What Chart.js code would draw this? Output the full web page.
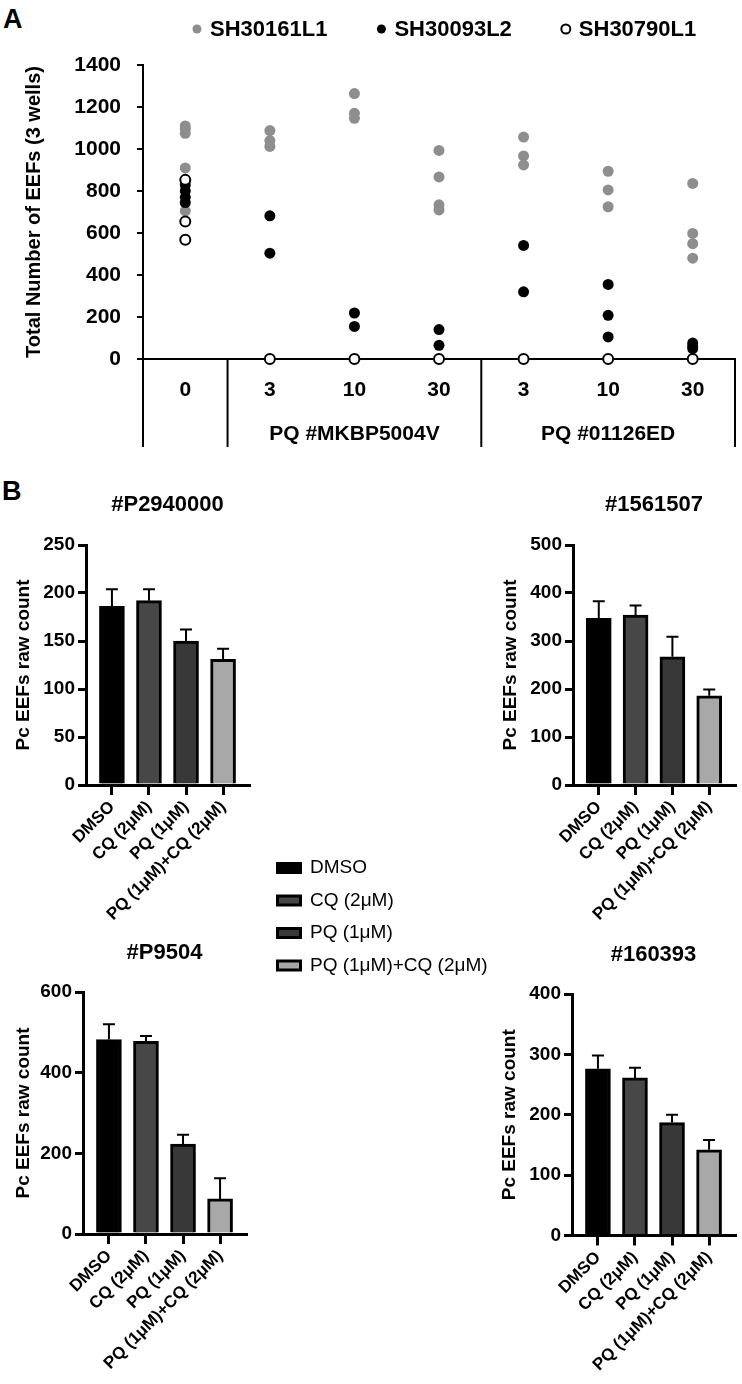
<!DOCTYPE html>
<html>
<head>
<meta charset="utf-8">
<script src="https://cdn.jsdelivr.net/npm/chart.js@4.4.0/dist/chart.umd.min.js"></script>
<style>
  body { margin: 0; background: #fff; }
  #page { position: relative; width: 742px; height: 1384px; overflow: hidden; font-family: 'Liberation Sans', Arial, sans-serif; }
  canvas { position: absolute; }
  .panel { position: absolute; font-weight: bold; font-size: 27px; line-height: 1; }
</style>
</head>
<body>
<div id="page">
  <div class="panel" style="left:3px;top:6px">A</div>
  <div class="panel" style="left:2px;top:478px">B</div>
  <canvas id="chartA" width="742" height="460" style="left:0;top:0"></canvas>
  <canvas id="chartB1" width="262" height="442" style="left:0;top:480px"></canvas>
  <canvas id="chartB2" width="255" height="442" style="left:487px;top:480px"></canvas>
  <canvas id="legendB" width="440" height="165" style="left:264px;top:845px"></canvas>
  <canvas id="chartB3" width="262" height="456" style="left:0;top:928px"></canvas>
  <canvas id="chartB4" width="256" height="454" style="left:486px;top:930px"></canvas>
</div>
<script>
Chart.defaults.font.family = "'Liberation Sans', Arial, sans-serif";
Chart.defaults.color = '#000';
Chart.defaults.animation = false;

// ---- panel A : x = position on the dose axis, y = total EEFs
const doseLabels = ['0', '3', '10', '30', '3', '10', '30'];
const lotNames = ['', 'PQ #MKBP5004V', 'PQ #01126ED'];
const lotFirst = [0, 1, 4];
const lotLast = [0, 3, 6];

const sh30161L1X = [0, 0, 0, 0, 0, 1, 1, 1, 2, 2, 2, 3, 3, 3, 3, 4, 4, 4, 5, 5, 5, 6, 6, 6, 6];
const sh30161L1Y = [1110, 1095, 1075, 910, 705, 1088, 1040, 1012, 1264, 1170, 1146, 993, 867, 734, 710, 1057, 967, 924, 894, 805, 725, 836, 598, 549, 480];
const sh30093L2X = [0, 0, 0, 0, 1, 1, 2, 2, 3, 3, 4, 4, 5, 5, 5, 6, 6, 6];
const sh30093L2Y = [830, 800, 770, 745, 682, 504, 219, 155, 140, 65, 541, 320, 355, 208, 105, 76, 62, 50];
const sh30790L1X = [0, 0, 0, 1, 2, 3, 4, 5, 6];
const sh30790L1Y = [853, 655, 568, 0, 0, 0, 0, 0, 0];

// ---- panel B : bar means and upper SD
const treatments = ['DMSO', 'CQ (2μM)', 'PQ (1μM)', 'PQ (1μM)+CQ (2μM)'];
const barColors = ['#000000', '#474747', '#383838', '#a8a8a8'];
const p2940000 = [186, 192, 150, 131];
const p2940000Err = [18, 12, 12, 11];
const c1561507 = [347, 354, 267, 186];
const c1561507Err = [36, 20, 42, 13];
const p9504 = [482, 478, 223, 87];
const p9504Err = [38, 13, 23, 51];
const c160393 = [276, 261, 187, 142];
const c160393Err = [22, 17, 13, 16];

function toPoints(xs, ys) {
  return xs.map((x, i) => ({ x: x, y: ys[i] }));
}

// legend + lot brackets under the x axis of panel A
const panelAExtras = {
  id: 'panelAExtras',
  afterDraw(chart) {
    const { ctx, scales: { x, y } } = chart;
    const base = y.getPixelForValue(0);
    ctx.save();
    ctx.strokeStyle = '#000';
    ctx.lineWidth = 2;
    const cuts = [-0.5, 0.5, 3.5, 6.5];
    cuts.forEach(v => {
      const px = Math.min(x.getPixelForValue(v), chart.width - 2);
      ctx.beginPath();
      ctx.moveTo(px, base);
      ctx.lineTo(px, base + 88);
      ctx.stroke();
    });
    ctx.fillStyle = '#000';
    ctx.font = "bold 21px 'Liberation Sans', Arial, sans-serif";
    ctx.textAlign = 'center';
    ctx.textBaseline = 'middle';
    lotNames.forEach((name, i) => {
      if (!name) return;
      const mid = (lotFirst[i] + lotLast[i]) / 2;
      ctx.fillText(name, x.getPixelForValue(mid), base + 75);
    });

    // legend
    ctx.font = "bold 22px 'Liberation Sans', Arial, sans-serif";
    ctx.textAlign = 'left';
    let lx = 193;
    chart.data.datasets.forEach(ds => {
      ctx.beginPath();
      ctx.arc(lx + 4, 29, 4.5, 0, Math.PI * 2);
      ctx.fillStyle = ds.pointBackgroundColor;
      ctx.fill();
      if (ds.pointBorderWidth) {
        ctx.lineWidth = 2;
        ctx.strokeStyle = ds.pointBorderColor;
        ctx.stroke();
      }
      ctx.fillStyle = '#000';
      ctx.fillText(ds.label, lx + 17, 30);
      lx += 17 + ctx.measureText(ds.label).width + 50;
    });
    ctx.restore();
  }
};

new Chart(document.getElementById('chartA'), {
  type: 'scatter',
  data: {
    datasets: [
      { label: 'SH30161L1', data: toPoints(sh30161L1X, sh30161L1Y), pointBackgroundColor: '#8e8e8e', pointBorderColor: '#8e8e8e', pointBorderWidth: 0, pointRadius: 5.5, order: 2, clip: false },
      { label: 'SH30093L2', data: toPoints(sh30093L2X, sh30093L2Y), pointBackgroundColor: '#000000', pointBorderColor: '#000000', pointBorderWidth: 0, pointRadius: 5.5, order: 1, clip: false },
      { label: 'SH30790L1', data: toPoints(sh30790L1X, sh30790L1Y), pointBackgroundColor: '#ffffff', pointBorderColor: '#000000', pointBorderWidth: 2, pointRadius: 5, order: 0, clip: false }
    ]
  },
  options: {
    responsive: false,
    events: [],
    layout: { padding: { top: 65, right: 2, left: 0, bottom: 0 } },
    plugins: { legend: { display: false }, tooltip: { enabled: false } },
    scales: {
      x: {
        type: 'linear',
        min: -0.5,
        max: 6.5,
        afterBuildTicks: s => { s.ticks = doseLabels.map((l, i) => ({ value: i })); },
        afterFit: s => { s.height = 101; },
        grid: { display: false, drawTicks: false },
        border: { color: '#000', width: 2 },
        ticks: { callback: v => doseLabels[v], autoSkip: false, maxRotation: 0, padding: 19, font: { size: 21, weight: 'bold' } }
      },
      y: {
        min: 0,
        max: 1400,
        afterFit: s => { s.width = 143; },
        grid: { drawOnChartArea: false, drawTicks: true, tickLength: 6, color: '#000', lineWidth: 2 },
        border: { color: '#000', width: 2 },
        ticks: { stepSize: 200, padding: 16, callback: v => String(v), font: { size: 21, weight: 'bold' } },
        title: { display: true, text: 'Total Number of EEFs (3 wells)', font: { size: 20, weight: 'bold' }, padding: { top: 22, bottom: 0 } }
      }
    }
  },
  plugins: [panelAExtras]
});

function makeBarChart(id, title, means, errs, yMax, yStep, axisWidth, bottomHeight, padRight, titleGap) {
  const errorBars = {
    id: 'errorBars',
    afterDatasetsDraw(chart) {
      const { ctx, scales: { x, y } } = chart;
      ctx.save();
      ctx.strokeStyle = '#000';
      ctx.lineWidth = 2;
      means.forEach((m, i) => {
        const px = x.getPixelForValue(i);
        const y0 = y.getPixelForValue(m);
        const y1 = y.getPixelForValue(m + errs[i]);
        ctx.beginPath();
        ctx.moveTo(px, y0);
        ctx.lineTo(px, y1);
        ctx.moveTo(px - 6, y1);
        ctx.lineTo(px + 6, y1);
        ctx.stroke();
      });
      ctx.restore();
    }
  };
  new Chart(document.getElementById(id), {
    type: 'bar',
    data: {
      datasets: [{
        data: means.map((m, i) => ({ x: i, y: m })),
        backgroundColor: barColors,
        borderColor: '#000',
        borderWidth: 3,
        borderSkipped: 'start',
        barThickness: 25
      }]
    },
    options: {
      responsive: false,
      events: [],
      layout: { padding: { top: 12, right: padRight, left: 0, bottom: 0 } },
      plugins: {
        legend: { display: false },
        tooltip: { enabled: false },
        title: { display: true, text: title, fullSize: false, font: { size: 22, weight: 'bold' }, padding: { top: 0, bottom: titleGap } }
      },
      scales: {
        x: {
          type: 'linear',
          min: -0.7,
          max: 3.7,
          offset: false,
          afterBuildTicks: s => { s.ticks = treatments.map((t, i) => ({ value: i })); },
          afterFit: s => { s.height = bottomHeight; },
          grid: { display: true, drawOnChartArea: false, drawTicks: true, tickLength: 10, color: '#000', lineWidth: 3, offset: false },
          border: { color: '#000', width: 3 },
          ticks: { callback: v => treatments[v], autoSkip: false, minRotation: 45, maxRotation: 45, padding: 2, font: { size: 17, weight: 'bold' } }
        },
        y: {
          min: 0,
          max: yMax,
          afterFit: s => { s.width = axisWidth; },
          grid: { drawOnChartArea: false, drawTicks: true, tickLength: 8, color: '#000', lineWidth: 3 },
          border: { color: '#000', width: 3 },
          ticks: { stepSize: yStep, padding: 3, callback: v => String(v), font: { size: 19, weight: 'bold' } },
          title: { display: true, text: 'Pc EEFs raw count', font: { size: 19, weight: 'bold' }, padding: { top: 12, bottom: 0 } }
        }
      }
    },
    plugins: [errorBars]
  });
}

makeBarChart('chartB1', '#P2940000', p2940000, p2940000Err, 250, 50, 86, 137, 13, 26.6);
makeBarChart('chartB2', '#1561507', c1561507, c1561507Err, 500, 100, 86, 137, 7, 26.6);
makeBarChart('chartB3', '#P9504', p9504, p9504Err, 600, 200, 83, 150, 16, 25.6);
makeBarChart('chartB4', '#160393', c160393, c160393Err, 400, 100, 86, 148.5, 7, 25.6);

// shared legend for panel B
new Chart(document.getElementById('legendB'), {
  type: 'bar',
  data: {
    labels: [],
    datasets: treatments.map((t, i) => ({ label: t, data: [], backgroundColor: barColors[i], borderColor: '#000', borderWidth: 3 }))
  },
  options: {
    responsive: false,
    events: [],
    layout: { padding: 0 },
    scales: { x: { display: false }, y: { display: false } },
    plugins: {
      tooltip: { enabled: false },
      legend: {
        position: 'left',
        align: 'start',
        maxWidth: 260,
        labels: { boxWidth: 23, boxHeight: 9, padding: 13.5, color: '#000', font: { size: 19 } }
      }
    }
  }
});
</script>
</body>
</html>
